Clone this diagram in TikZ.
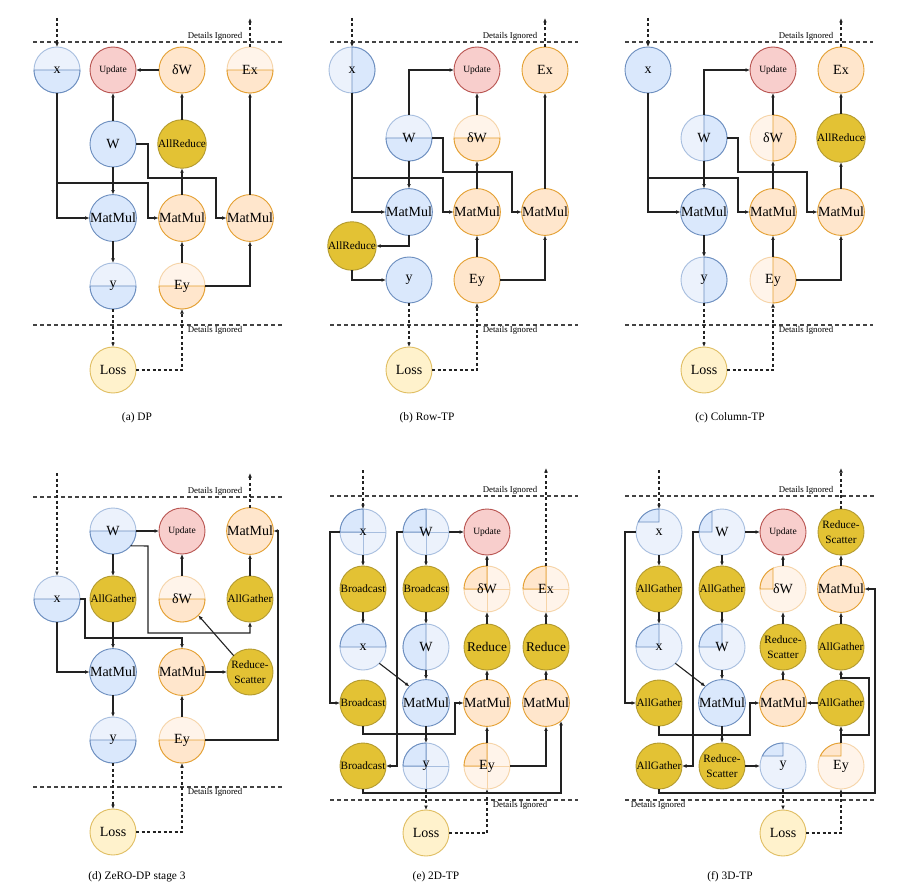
\documentclass[tikz,border=0pt]{standalone}
\usepackage{fontspec}
\setmainfont{Liberation Serif}
\usetikzlibrary{arrows.meta}
\definecolor{bF}{HTML}{DAE8FC}
\definecolor{bD}{HTML}{6C8EBF}
\definecolor{bL}{HTML}{ECF2FC}
\definecolor{bLD}{HTML}{A7BEDF}
\definecolor{oF}{HTML}{FFE6CC}
\definecolor{oD}{HTML}{E4A032}
\definecolor{oL}{HTML}{FFF4EA}
\definecolor{oLD}{HTML}{F6D4A8}
\definecolor{rF}{HTML}{F8CECC}
\definecolor{rD}{HTML}{B85450}
\definecolor{gF}{HTML}{E3C234}
\definecolor{gD}{HTML}{B39A2E}
\definecolor{lF}{HTML}{FFF2CC}
\definecolor{lD}{HTML}{E0BE62}
\definecolor{ln}{HTML}{222222}
\tikzset{
  nd/.style={circle, minimum size=46pt, inner sep=0pt, outer sep=0pt, line width=0.9pt, font=\fontsize{14}{16}\selectfont, align=center},
  nB/.style={nd, fill=bF, draw=bD},
  nBL/.style={nd, fill=bL, draw=bLD},
  nO/.style={nd, fill=oF, draw=oD},
  nOL/.style={nd, fill=oL, draw=oLD},
  nR/.style={nd, fill=rF, draw=rD, font=\fontsize{9.5}{11}\selectfont},
  nG/.style={nd, fill=gF, draw=gD, font=\fontsize{11.2}{15.5}\selectfont},
  nGb/.style={nd, fill=gF, draw=gD, font=\fontsize{13.3}{15}\selectfont},
  nL/.style={nd, fill=lF, draw=lD},
  tx/.style={font=\fontsize{14}{16}\selectfont, inner sep=0pt},
  ar/.style={draw=ln, line width=1.1pt, -{Latex[length=4.5pt,width=3.8pt]}},
  da/.style={ar, dash pattern=on 3pt off 2.5pt},
  sepl/.style={draw=ln!85, line width=1.1pt, dash pattern=on 4pt off 3pt},
  dt/.style={font=\fontsize{8.8}{10}\selectfont, inner sep=1pt},
  captxt/.style={font=\fontsize{11.4}{13}\selectfont},
}
\def\pHB{(-23,0) -- (23,0) arc[start angle=0,end angle=180,radius=23] -- cycle}
\def\pHT{(-23,0) -- (23,0) arc[start angle=0,end angle=-180,radius=23] -- cycle}
\def\pVR{(0,-23) -- (0,23) arc[start angle=90,end angle=-90,radius=23] -- cycle}
\def\pVL{(0,-23) -- (0,23) arc[start angle=90,end angle=270,radius=23] -- cycle}
\def\pQ{(0,-23) -- (0,0) -- (-23,0) arc[start angle=180,end angle=270,radius=23] -- cycle}
\def\pQX{(0,-23) -- (0,-10) -- (-20.72,-10) arc[start angle=205.8,end angle=270,radius=23] -- cycle}
\def\pQW{(-10,-20.72) -- (-10,0) -- (-23,0) arc[start angle=180,end angle=244.2,radius=23] -- cycle}
\newcommand\rg[4]{\begin{scope}[shift={(#1.center)}]\filldraw[fill=#2,draw=#3,line width=0.9pt] #4;\end{scope}}
\newcommand\crs[2]{\begin{scope}[shift={(#1.center)}]\draw[#2,line width=0.8pt] (-23,0)--(23,0) (0,-23)--(0,23);\end{scope}}
\newcommand\bsn[4]{\node[nBL] (#1) at (#2) {}; \rg{#1}{bF}{bD}{#3} \node[tx] at (#1) {#4};}
\newcommand\osn[4]{\node[nOL] (#1) at (#2) {}; \rg{#1}{oF}{oD}{#3} \node[tx] at (#1) {#4};}
\newcommand\bqn[3]{\node[nBL] (#1) at (#2) {}; \crs{#1}{bLD} \rg{#1}{bF}{bD}{\pQ} \node[tx] at (#1) {#3};}
\newcommand\oqn[3]{\node[nOL] (#1) at (#2) {}; \crs{#1}{oLD} \rg{#1}{oF}{oD}{\pQ} \node[tx] at (#1) {#3};}
\begin{document}
\begin{tikzpicture}[x=1pt,y=-1pt]
\useasboundingbox (0,0) rectangle (908,896);
\fill[white] (0,0) rectangle (908,896);

% ================= (a) DP =================
\draw[sepl] (33,42) -- (283,42);
\node[dt, anchor=south] (adt) at (215,42) {Details Ignored};
\draw[sepl] (33,325) -- (283,325);
\node[dt, anchor=north] (adb) at (215,325) {Details Ignored};
\bsn{ax}{57,70}{\pHB}{x}
\node[nR] (aup) at (113,70) {Update};
\node[nO] (adw) at (182,70) {δW};
\osn{aex}{250,70}{\pHB}{Ex}
\node[nB] (aw) at (113,144) {W};
\node[nG] (aar) at (182,144) {AllReduce};
\node[nB] (am1) at (113,218) {MatMul};
\node[nO] (am2) at (182,218) {MatMul};
\node[nO] (am3) at (250,218) {MatMul};
\bsn{ay}{113,286}{\pHB}{y}
\osn{aey}{182,286}{\pHB}{Ey}
\node[nL] (aloss) at (113,370) {Loss};
\coordinate (ain) at (57,18);
\coordinate (aout) at (250,18);
\draw[ar] (ax.south) |- (am1.west);
\draw[ar] (ax.south |- 0,183) -- (148,183) |- (am2.west);
\draw[ar] (aw.south) -- (am1.north);
\draw[ar] (aw.north) -- (aup.south);
\draw[ar] (aw.east) -- (148,144) -- (148,178) -- (216,178) |- (am3.west);
\draw[ar] (am2.north) -- (aar.south);
\draw[ar] (aar.north) -- (adw.south);
\draw[ar] (adw.west) -- (aup.east);
\draw[ar] (am3.north) -- (aex.south);
\draw[ar] (am1.south) -- (ay.north);
\draw[ar] (aey.north) -- (am2.south);
\draw[ar] (aey.east) -| (am3.south);
\draw[da] (ay.south) -- (aloss.north);
\draw[da] (aloss.east) -| (aey.south);
\draw[da] (ain) -- (ax.north);
\draw[da] (aex.north) -- (aout);
\node[captxt] (capa) at (137,418) {(a) DP};

% ================= (b) Row-TP =================
\draw[sepl] (330,42) -- (578,42);
\node[dt, anchor=south] (bdt) at (510,42) {Details Ignored};
\draw[sepl] (330,325) -- (578,325);
\node[dt, anchor=north] (bdb) at (510,325) {Details Ignored};
\bsn{bx}{352,70}{\pVR}{x}
\node[nR] (bup) at (477,70) {Update};
\node[nO] (bex) at (545,70) {Ex};
\bsn{bw}{409,138}{\pHB}{W}
\osn{bdw}{477,138}{\pHB}{δW}
\node[nB] (bm1) at (409,212) {MatMul};
\node[nO] (bm2) at (477,212) {MatMul};
\node[nO] (bm3) at (545,212) {MatMul};
\node[nG] (bar) at (352,246) {AllReduce};
\node[nB] (by) at (409,280) {y};
\node[nO] (bey) at (477,280) {Ey};
\node[nL] (bloss) at (409,370) {Loss};
\coordinate (bin) at (352,18);
\coordinate (bout) at (545,18);
\draw[ar] (bx.south) |- (bm1.west);
\draw[ar] (bx.south |- 0,178) -- (443,178) |- (bm2.west);
\draw[ar] (bw.north) |- (bup.west);
\draw[ar] (bw.south) -- (bm1.north);
\draw[ar] (bw.east) -- (443,138) -- (443,172) -- (512,172) |- (bm3.west);
\draw[ar] (bm2.north) -- (bdw.south);
\draw[ar] (bdw.north) -- (bup.south);
\draw[ar] (bm3.north) -- (bex.south);
\draw[ar] (bm1.south) |- (bar.east);
\draw[ar] (bar.south) |- (by.west);
\draw[ar] (bey.north) -- (bm2.south);
\draw[ar] (bey.east) -| (bm3.south);
\draw[da] (by.south) -- (bloss.north);
\draw[da] (bloss.east) -| (bey.south);
\draw[da] (bin) -- (bx.north);
\draw[da] (bex.north) -- (bout);
\node[captxt] (capb) at (427,418) {(b) Row-TP};

% ================= (c) Column-TP =================
\draw[sepl] (625,42) -- (873,42);
\node[dt, anchor=south] (cdt) at (806,42) {Details Ignored};
\draw[sepl] (625,325) -- (873,325);
\node[dt, anchor=north] (cdb) at (806,325) {Details Ignored};
\node[nB] (cx) at (648,70) {x};
\node[nR] (cup) at (773,70) {Update};
\node[nO] (cex) at (841,70) {Ex};
\bsn{cw}{704,138}{\pVR}{W}
\osn{cdw}{773,138}{\pVR}{δW}
\node[nG] (car) at (841,138) {AllReduce};
\node[nB] (cm1) at (704,212) {MatMul};
\node[nO] (cm2) at (773,212) {MatMul};
\node[nO] (cm3) at (841,212) {MatMul};
\bsn{cy}{704,280}{\pVR}{y}
\osn{cey}{773,280}{\pVR}{Ey}
\node[nL] (closs) at (704,370) {Loss};
\coordinate (cin) at (648,18);
\coordinate (cout) at (841,18);
\draw[ar] (cx.south) |- (cm1.west);
\draw[ar] (cx.south |- 0,178) -- (738,178) |- (cm2.west);
\draw[ar] (cw.north) |- (cup.west);
\draw[ar] (cw.south) -- (cm1.north);
\draw[ar] (cw.east) -- (738,138) -- (738,172) -- (807,172) |- (cm3.west);
\draw[ar] (cm2.north) -- (cdw.south);
\draw[ar] (cdw.north) -- (cup.south);
\draw[ar] (cm3.north) -- (car.south);
\draw[ar] (car.north) -- (cex.south);
\draw[ar] (cm1.south) -- (cy.north);
\draw[ar] (cey.north) -- (cm2.south);
\draw[ar] (cey.east) -| (cm3.south);
\draw[da] (cy.south) -- (closs.north);
\draw[da] (closs.east) -| (cey.south);
\draw[da] (cin) -- (cx.north);
\draw[da] (cex.north) -- (cout);
\node[captxt] (capc) at (730,418) {(c) Column-TP};

% ================= (d) ZeRO-DP stage 3 =================
\draw[sepl] (33,497) -- (283,497);
\node[dt, anchor=south] (ddt) at (215,497) {Details Ignored};
\draw[sepl] (33,787) -- (283,787);
\node[dt, anchor=north] (ddb) at (215,787) {Details Ignored};
\bsn{dw}{113,531}{\pHB}{W}
\node[nR] (dup) at (182,531) {Update};
\node[nO] (dmt) at (250,531) {MatMul};
\bsn{dx}{57,599}{\pHB}{x}
\node[nG] (dag1) at (113,599) {AllGather};
\osn{ddw}{182,599}{\pHB}{δW}
\node[nG] (dag2) at (250,599) {AllGather};
\node[nB] (dm1) at (113,672) {MatMul};
\node[nO] (dm2) at (182,672) {MatMul};
\node[nG] (drs) at (250,672) {Reduce-\\Scatter};
\bsn{dy}{113,740}{\pHB}{y}
\osn{dey}{182,740}{\pHB}{Ey}
\node[nL] (dloss) at (113,832) {Loss};
\coordinate (din) at (57,473);
\coordinate (dout) at (250,473);
\draw[ar] (dw.east) -- (dup.west);
\draw[ar] (dw.south) -- (dag1.north);
\draw[ar] (dw.-40) -- (148,546) -- (148,633) -| (dag2.south);
\draw[ar] (dag2.north) -- (dmt.south);
\draw[ar] (dey.east) -- (278,740) |- (dmt.east);
\draw[ar] (ddw.north) -- (dup.south);
\draw[ar] (drs.135) -- (ddw.-45);
\draw[ar] (dm2.east) -- (drs.west);
\draw[ar] (dey.north) -- (dm2.south);
\draw[ar] (dag1.south) -- (dm1.north);
\draw[ar] (dx.south) |- (dm1.west);
\draw[ar] (dx.east) -- (85,599) -- (85,638) -| (dm2.north);
\draw[ar] (dm1.south) -- (dy.north);
\draw[da] (dy.south) -- (dloss.north);
\draw[da] (dloss.east) -| (dey.south);
\draw[da] (din) -- (dx.north);
\draw[da] (dmt.north) -- (dout);
\node[captxt] (capd) at (137,877) {(d) ZeRO-DP stage 3};

% ================= (e) 2D-TP =================
\draw[sepl] (330,496) -- (578,496);
\node[dt, anchor=south] (edt) at (510,496) {Details Ignored};
\draw[sepl] (330,800) -- (578,800);
\node[dt, anchor=north] (edb) at (520,800) {Details Ignored};
\bqn{ex1}{363,532}{x}
\bqn{ew1}{426,532}{W}
\node[nR] (eup) at (487,532) {Update};
\node[nG] (eb1) at (363,589) {Broadcast};
\node[nG] (eb2) at (426,589) {Broadcast};
\oqn{edw}{487,589}{δW}
\oqn{eex}{546,589}{Ex}
\bsn{ex2}{363,647}{\pHT}{x}
\bsn{ew2}{426,647}{\pVL}{W}
\node[nGb] (er1) at (487,647) {Reduce};
\node[nGb] (er2) at (546,647) {Reduce};
\node[nG] (eb3) at (363,703) {Broadcast};
\node[nB] (em1) at (426,703) {MatMul};
\node[nO] (em2) at (487,703) {MatMul};
\node[nO] (em3) at (546,703) {MatMul};
\node[nG] (eb4) at (363,766) {Broadcast};
\bqn{ey}{426,766}{y}
\oqn{eey}{487,766}{Ey}
\node[nL] (eloss) at (426,833) {Loss};
\coordinate (ein) at (363,470);
\coordinate (eout) at (546,468);
\draw[ar] (ex1.west) -- (330,532) |- (eb3.west);
\draw[ar] (ex1.south) -- (eb1.north);
\draw[ar] (eb1.south) -- (ex2.north);
\draw[ar] (ex2.-45) -- (em1.135);
\draw[ar] (ew1.west) -- (397,532) |- (eb4.east);
\draw[ar] (ew1.east) -- (eup.west);
\draw[ar] (ew1.south) -- (eb2.north);
\draw[ar] (eb2.south) -- (ew2.north);
\draw[ar] (ew2.south) -- (em1.north);
\draw[ar] (edw.north) -- (eup.south);
\draw[ar] (er1.north) -- (edw.south);
\draw[ar] (em2.north) -- (er1.south);
\draw[ar] (er2.north) -- (eex.south);
\draw[ar] (em3.north) -- (er2.south);
\draw[ar] (eb3.south) -- (363,734) -- (455,734) |- (em2.west);
\draw[ar] (em1.south) -- (ey.north);
\draw[ar] (eey.north) -- (em2.south);
\draw[ar] (eey.east) -| (em3.south);
\draw[ar] (eb4.south) -- (363,793) -| (em3.-50);
\draw[da] (ey.south) -- (eloss.north);
\draw[da] (eloss.east) -| (eey.south);
\draw[da] (ein) -- (ex1.north);
\draw[da] (eex.north) -- (eout);
\node[captxt] (cape) at (436,877) {(e) 2D-TP};

% ================= (f) 3D-TP =================
\draw[sepl] (625,496) -- (875,496);
\node[dt, anchor=south] (fdt) at (806,496) {Details Ignored};
\draw[sepl] (625,800) -- (875,800);
\node[dt, anchor=north] (fdb) at (658,800) {Details Ignored};
\bsn{fx1}{659,532}{\pQX}{x}
\bsn{fw1}{722,532}{\pQW}{W}
\node[nR] (fup) at (783,532) {Update};
\node[nG] (frs1) at (841,532) {Reduce-\\Scatter};
\node[nG] (fag1) at (659,589) {AllGather};
\node[nG] (fag2) at (722,589) {AllGather};
\osn{fdw}{783,589}{\pQW}{δW}
\node[nO] (fmo1) at (841,589) {MatMul};
\bsn{fx2}{659,647}{\pQ}{x}
\bsn{fw2}{722,647}{\pQ}{W}
\node[nG] (frs2) at (783,647) {Reduce-\\Scatter};
\node[nG] (fag3) at (841,647) {AllGather};
\node[nG] (fag4) at (659,703) {AllGather};
\node[nB] (fm1) at (722,703) {MatMul};
\node[nO] (fmo2) at (783,703) {MatMul};
\node[nG] (fag5) at (841,703) {AllGather};
\node[nG] (fag6) at (659,766) {AllGather};
\node[nG] (frs3) at (722,766) {Reduce-\\Scatter};
\bsn{fy}{783,766}{\pQX}{y}
\osn{fey}{841,766}{\pQX}{Ey}
\node[nL] (floss) at (783,833) {Loss};
\coordinate (fin) at (659,470);
\coordinate (fout) at (841,468);
\draw[ar] (fx1.west) -- (625,532) |- (fag4.west);
\draw[ar] (fx1.south) -- (fag1.north);
\draw[ar] (fag1.south) -- (fx2.north);
\draw[ar] (fx2.-45) -- (fm1.135);
\draw[ar] (fw1.west) -- (693,532) |- (fag6.east);
\draw[ar] (fw1.east) -- (fup.west);
\draw[ar] (fw1.south) -- (fag2.north);
\draw[ar] (fag2.south) -- (fw2.north);
\draw[ar] (fw2.south) -- (fm1.north);
\draw[ar] (fm1.south) -- (frs3.north);
\draw[ar] (frs3.east) -- (fy.west);
\draw[ar] (fdw.north) -- (fup.south);
\draw[ar] (frs2.north) -- (fdw.south);
\draw[ar] (fmo2.north) -- (frs2.south);
\draw[ar] (fag4.south) -- (659,735) -- (750,735) |- (fmo2.west);
\draw[ar] (fag5.west) -- (fmo2.east);
\draw[ar] (fey.north) -- (fag5.south);
\draw[ar] (fey.north |- 0,735) -- (869,735) -- (869,678) -- (841,678) -- (fag3.south);
\draw[ar] (fag3.north) -- (fmo1.south);
\draw[ar] (fmo1.north) -- (frs1.south);
\draw[ar] (fag6.south) -- (659,793) -- (875,793) |- (fmo1.east);
\draw[da] (fy.south) -- (floss.north);
\draw[da] (floss.east) -| (fey.south);
\draw[da] (fin) -- (fx1.north);
\draw[da] (frs1.north) -- (fout);
\node[captxt] (capf) at (730,877) {(f) 3D-TP};
\end{tikzpicture}
\end{document}
